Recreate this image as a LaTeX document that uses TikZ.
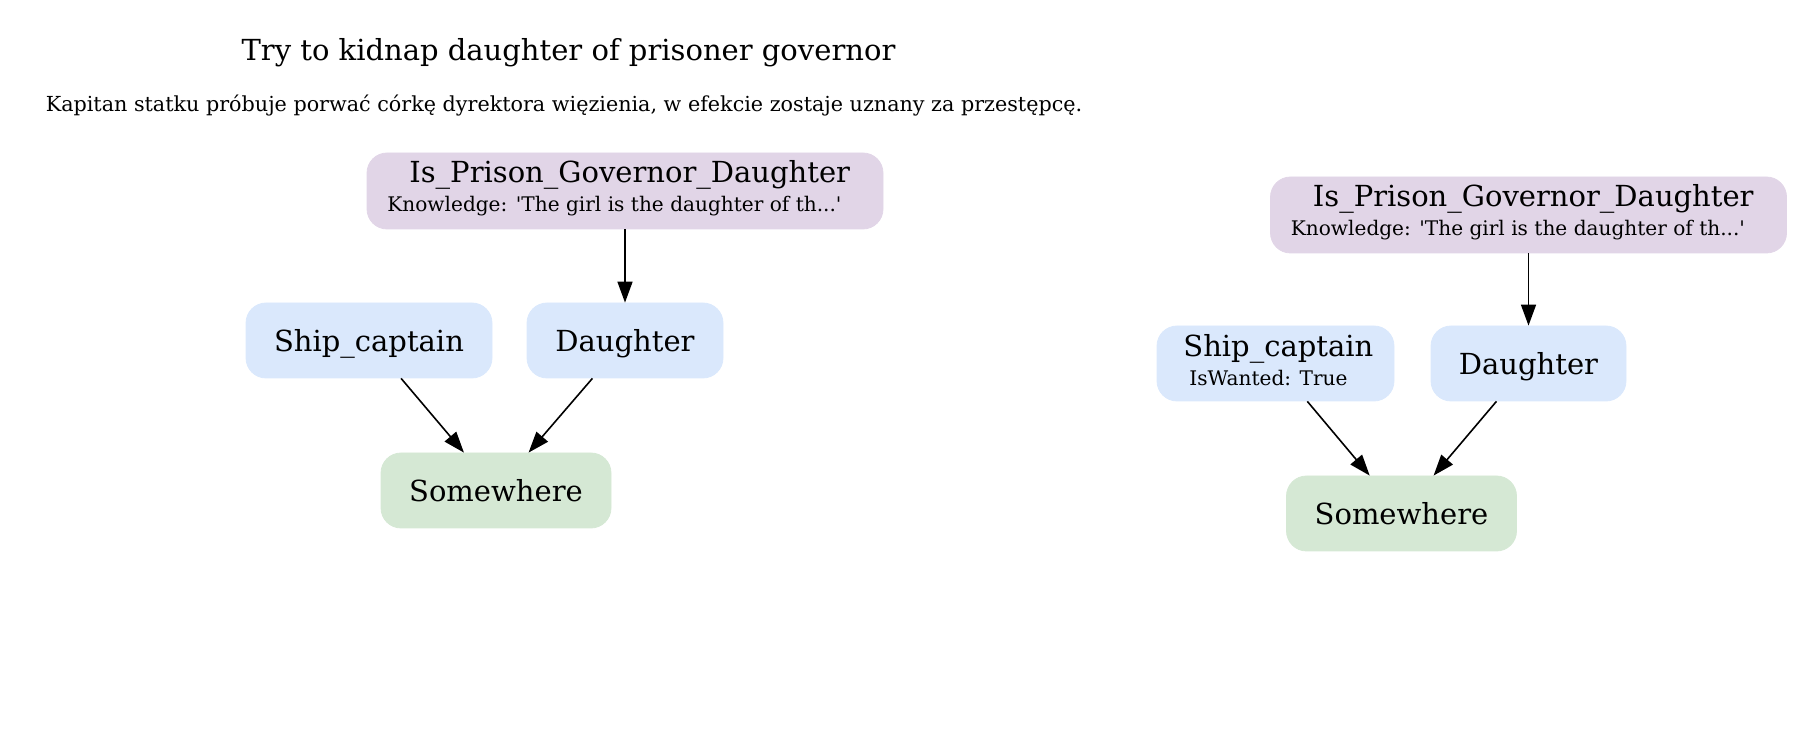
\documentclass[tikz,border=0pt]{standalone}
\usepackage{fontspec}
\setmainfont{DejaVu Serif}
\usetikzlibrary{arrows.meta}
\definecolor{purp}{HTML}{E1D5E7}
\definecolor{blu}{HTML}{DAE8FC}
\definecolor{grn}{HTML}{D5E8D4}
\newcommand\gvbig{\fontsize{14.5}{16}\selectfont}
\newcommand\gvsmall{\fontsize{10.05}{12}\selectfont}
\newcommand\gvsub{\fontsize{10.35}{13}\selectfont}
\begin{document}
\begin{tikzpicture}[x=0.5pt,y=-0.5pt,
  box/.style={rectangle, rounded corners=10pt, inner sep=0pt, minimum height=37.5pt, text depth=0pt, font=\gvbig},
  pbox/.style={box, fill=purp, draw=purp, minimum height=38pt},
  bbox/.style={box, fill=blu, draw=blu},
  gbox/.style={box, fill=grn, draw=grn},
  txt/.style={inner sep=0pt, anchor=base west},
  edge/.style={draw=black, line width=0.8pt, -{Triangle[length=10.5pt,width=7.5pt]}}]
\useasboundingbox (0,0) rectangle (1814,731);
% titles
\node[inner sep=0pt, anchor=base, font=\gvbig] (title) at (568.5,60.5) {Try to kidnap daughter of prisoner governor};
\node[inner sep=0pt, anchor=base, font=\gvsub] (subtitle) at (564,111.5) {Kapitan statku próbuje porwać córkę dyrektora więzienia, w efekcie zostaje uznany za przestępcę.};
% left cluster
\node[pbox, minimum width=258pt] (ipgd1) at (625,191) {};
\node[txt, font=\gvbig] (ipgd1t) at (409,183) {Is\_Prison\_Governor\_Daughter};
\node[txt, font=\gvsmall] (ipgd1k) at (387,212) {Knowledge: \textquotesingle The girl is the daughter of th...\textquotesingle};
\node[bbox, minimum width=123pt] (ship1) at (369,340.5) {Ship\_captain};
\node[bbox, minimum width=98pt] (dau1) at (625,340.5) {Daughter};
\node[gbox, minimum width=115pt] (some1) at (496,490.5) {Somewhere};
\draw[edge] (ipgd1) -- (dau1);
\draw[edge] (ship1) -- (some1);
\draw[edge] (dau1) -- (some1);
% right cluster
\node[pbox, minimum width=258pt] (ipgd2) at (1528.5,215) {};
\node[txt, font=\gvbig] (ipgd2t) at (1312.5,207) {Is\_Prison\_Governor\_Daughter};
\node[txt, font=\gvsmall] (ipgd2k) at (1290.5,236) {Knowledge: \textquotesingle The girl is the daughter of th...\textquotesingle};
\node[bbox, minimum width=118.5pt] (ship2) at (1275.5,363.5) {};
\node[txt, font=\gvbig] (ship2t) at (1183,357) {Ship\_captain};
\node[txt, font=\gvsmall] (ship2w) at (1189,386) {IsWanted: True};
\node[bbox, minimum width=97.5pt] (dau2) at (1528.5,363.5) {Daughter};
\node[gbox, minimum width=115pt] (some2) at (1401.5,513.5) {Somewhere};
\draw[edge] (ipgd2) -- (dau2);
\draw[edge] (ship2) -- (some2);
\draw[edge] (dau2) -- (some2);
\end{tikzpicture}
\end{document}
